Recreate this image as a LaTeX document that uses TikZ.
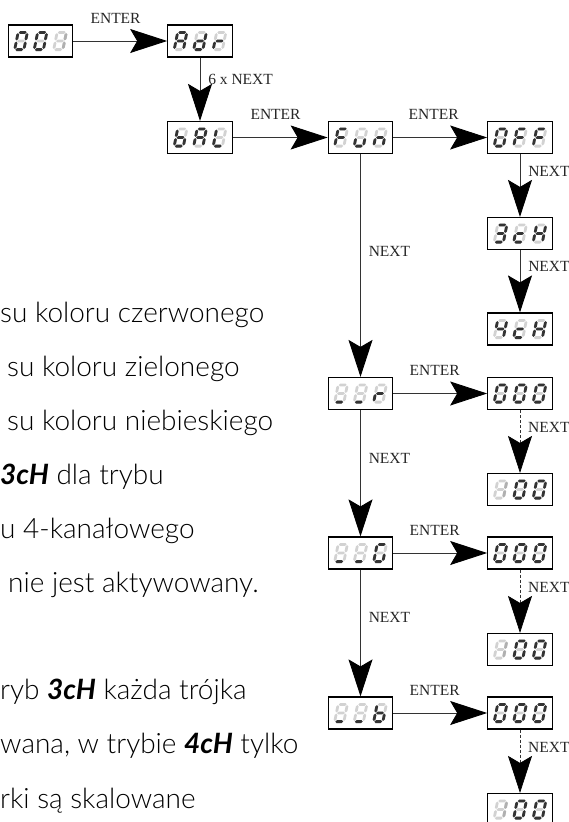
\documentclass[tikz,border=0pt]{standalone}
\usepackage{fontspec}
\newfontfamily\bodyfont{Lato Light}
\newfontfamily\keyfont{Lato Bold Italic}
\newfontfamily\lblfont{Liberation Serif}
\usetikzlibrary{arrows.meta}
\definecolor{segdark}{HTML}{333333}
\definecolor{segdim}{HTML}{B0B0B0}
\definecolor{segpale}{HTML}{D2D2D2}

\newcommand\hseg[3]{(#1,#3) -- ({#1+1.4},{#3-1.4}) -- ({#2-1.4},{#3-1.4}) -- (#2,#3) -- ({#2-1.4},{#3+1.4}) -- ({#1+1.4},{#3+1.4}) -- cycle}
\newcommand\vseg[3]{(#1,#2) -- ({#1+1.4},{#2+1.4}) -- ({#1+1.4},{#3-1.4}) -- (#1,#3) -- ({#1-1.4},{#3-1.4}) -- ({#1-1.4},{#2+1.4}) -- cycle}
\newcommand\sega{\hseg{-3.9}{3.9}{-8.6}}
\newcommand\segb{\vseg{4.6}{-7.9}{-0.6}}
\newcommand\segc{\vseg{4.6}{0.6}{7.9}}
\newcommand\segd{\hseg{-3.9}{3.9}{8.6}}
\newcommand\sege{\vseg{-4.6}{0.6}{7.9}}
\newcommand\segf{\vseg{-4.6}{-7.9}{-0.6}}
\newcommand\segg{\hseg{-3.9}{3.9}{0}}

\newcommand\sgzero{a,b,c,d,e,f}
\newcommand\sgone{b,c}
\newcommand\sgthree{a,b,c,d,g}
\newcommand\sgfour{b,c,f,g}
\newcommand\sgA{a,b,c,e,f,g}
\newcommand\sgd{b,c,d,e,g}
\newcommand\sgr{e,g}
\newcommand\sgb{c,d,e,f,g}
\newcommand\sgL{d,e,f}
\newcommand\sgF{a,e,f,g}
\newcommand\sgu{c,d,e}
\newcommand\sgn{c,e,g}
\newcommand\sgc{d,e,g}
\newcommand\sgH{b,c,e,f,g}
\newcommand\sgG{a,c,d,e,f}
\newcommand\sgbar{d}

\newcommand\ledchar[3]{%
  \ifx#3\sgone\def\litcolor{segdim}\else\def\litcolor{segdark}\fi
  \begin{scope}[shift={(#1.center)}, xshift=#2pt, xslant=0.2]
    \foreach \s in {a,b,c,d,e,f,g} {\fill[segoff] \csname seg\s\endcsname;}
    \foreach \s in #3 {\fill[fill=\litcolor] \csname seg\s\endcsname;}
  \end{scope}}
\newcommand\display[5]{%
  \node[ledbox] (#1) at (#2) {};
  \ledchar{#1}{-19.5}{#3}%
  \ledchar{#1}{0}{#4}%
  \ledchar{#1}{19.5}{#5}}

\begin{document}
\begin{tikzpicture}[
x=1pt, y=-1pt,
ledbox/.style={draw, line width=1.2pt, fill=white, minimum width=64.5pt, minimum height=32pt, inner sep=0pt},
segoff/.style={fill=segpale},
conn/.style={draw=black!80, line width=0.9pt, -{Stealth[length=37pt, width=24pt, inset=7pt, color=black]}},
dashconn/.style={conn, dash pattern=on 3pt off 2pt, line width=0.7pt},
lbl/.style={font=\lblfont\fontsize{15.5}{18}\selectfont, text=black!85},
body/.style={font=\bodyfont\fontsize{28}{34}\selectfont, anchor=base west, inner sep=0pt, text=black}]
\useasboundingbox (0,0) rectangle (568,822);

\display{d001}{40.5,41}{\sgzero}{\sgzero}{\sgone}
\display{dAdr}{200,41}{\sgA}{\sgd}{\sgr}
\display{dbAL}{200,137.5}{\sgb}{\sgA}{\sgL}
\display{dFUn}{360.5,137.5}{\sgF}{\sgu}{\sgn}
\display{dOFF}{520,137.5}{\sgzero}{\sgF}{\sgF}
\display{d3cH}{520,233.5}{\sgthree}{\sgc}{\sgH}
\display{d4cH}{520,329}{\sgfour}{\sgc}{\sgH}
\display{dr}{360.5,393.5}{\sgbar}{\sgbar}{\sgr}
\display{dG}{360.5,553}{\sgbar}{\sgbar}{\sgG}
\display{db}{360.5,713}{\sgbar}{\sgbar}{\sgb}
\display{dr0}{520,393.5}{\sgzero}{\sgzero}{\sgzero}
\display{dr1}{520,489.5}{\sgone}{\sgzero}{\sgzero}
\display{dG0}{520,553}{\sgzero}{\sgzero}{\sgzero}
\display{dG1}{520,649.5}{\sgone}{\sgzero}{\sgzero}
\display{db0}{520,713}{\sgzero}{\sgzero}{\sgzero}
\display{db1}{520,809.5}{\sgone}{\sgzero}{\sgzero}

\draw[conn] (d001) -- node[lbl, above=14pt, pos=0.45] {ENTER} (dAdr);
\draw[conn] (dAdr) -- node[lbl, right=4.5pt, pos=0.34] {6 x NEXT} (dbAL);
\draw[conn] (dbAL) -- node[lbl, above=14pt, pos=0.45] {ENTER} (dFUn);
\draw[conn] (dFUn) -- node[lbl, above=14pt, pos=0.43] {ENTER} (dOFF);
\draw[conn] (dOFF) -- node[lbl, right=4.5pt, pos=0.27] {NEXT} (d3cH);
\draw[conn] (d3cH) -- node[lbl, right=4.5pt, pos=0.27] {NEXT} (d4cH);
\draw[conn] (dFUn) -- node[lbl, right=4.5pt, pos=0.435] {NEXT} (dr);
\draw[conn] (dr) -- node[lbl, right=4.5pt, pos=0.38] {NEXT} (dG);
\draw[conn] (dG) -- node[lbl, right=4.5pt, pos=0.38] {NEXT} (db);
\draw[conn] (dr) -- node[lbl, above=14pt, pos=0.44] {ENTER} (dr0);
\draw[conn] (dG) -- node[lbl, above=14pt, pos=0.44] {ENTER} (dG0);
\draw[conn] (db) -- node[lbl, above=14pt, pos=0.44] {ENTER} (db0);
\draw[dashconn] (dr0) -- node[lbl, right=4.5pt, pos=0.28] {NEXT} (dr1);
\draw[dashconn] (dG0) -- node[lbl, right=4.5pt, pos=0.28] {NEXT} (dG1);
\draw[dashconn] (db0) -- node[lbl, right=4.5pt, pos=0.28] {NEXT} (db1);

\node[body] (t1) at (0,322) {su koloru czerwonego};
\node[body] (t2) at (7,376) {su koloru zielonego};
\node[body] (t3) at (7,430) {su koloru niebieskiego};
\node[body] (t4) at (0,484) {{\keyfont 3cH} dla trybu};
\node[body] (t5) at (0,538) {u 4-kanałowego};
\node[body] (t6) at (8,592) {nie jest aktywowany.};
\node[body] (t7) at (0,699) {ryb {\keyfont 3cH} każda trójka};
\node[body] (t8) at (0,753) {wana, w trybie {\keyfont 4cH} tylko};
\node[body] (t9) at (0,808) {rki są skalowane};
\end{tikzpicture}
\end{document}
